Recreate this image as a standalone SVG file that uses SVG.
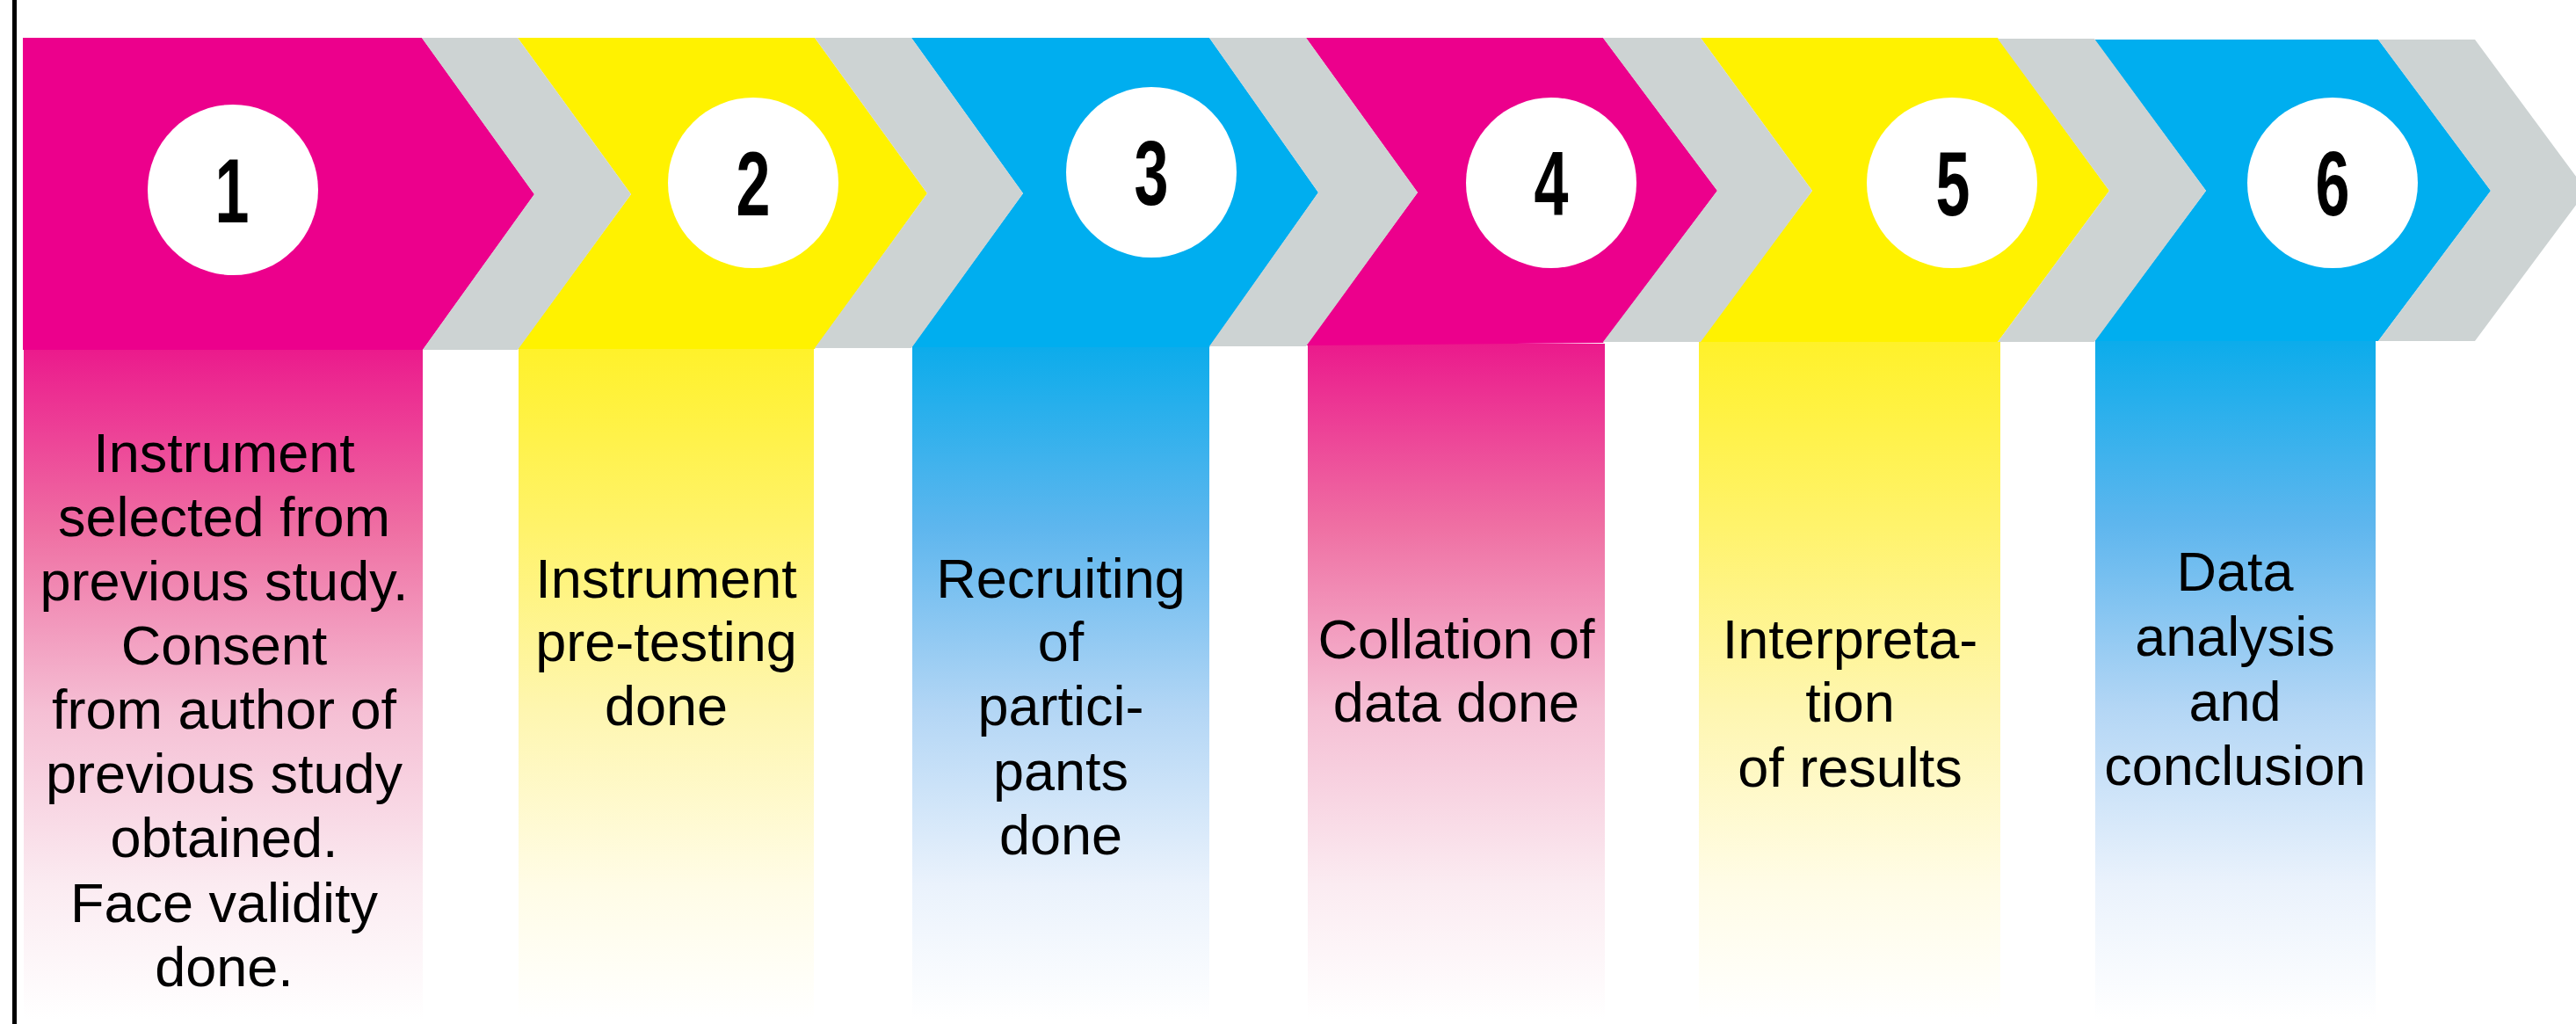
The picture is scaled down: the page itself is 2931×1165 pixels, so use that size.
<svg xmlns="http://www.w3.org/2000/svg" width="2931" height="1165" viewBox="0 0 2931 1165">
<style>
.mag{fill:#EC008C}.yel{fill:#FFF200}.cya{fill:#00AEEF}.chev{fill:#CDD3D3}
.circ{fill:#FFFFFF}
.num{font-family:"Liberation Sans",Arial,sans-serif;font-weight:bold;font-size:103px;fill:#000;text-anchor:middle}
.lbl{font-family:"Liberation Sans",Arial,sans-serif;font-size:63px;fill:#000;text-anchor:middle}
</style>
<defs>
<linearGradient id="gMag" x1="0" y1="0" x2="0" y2="1">
<stop offset="0" stop-color="#EB1A8C"/><stop offset="0.27" stop-color="#EF6FA3"/><stop offset="0.54" stop-color="#F5BFD4"/><stop offset="0.8" stop-color="#FBEBF1"/><stop offset="1" stop-color="#FFFFFF"/>
</linearGradient>
<linearGradient id="gYel" x1="0" y1="0" x2="0" y2="1">
<stop offset="0" stop-color="#FFF12A"/><stop offset="0.27" stop-color="#FFF36B"/><stop offset="0.54" stop-color="#FEF6B0"/><stop offset="0.8" stop-color="#FFFCE6"/><stop offset="1" stop-color="#FFFFFF"/>
</linearGradient>
<linearGradient id="gCya" x1="0" y1="0" x2="0" y2="1">
<stop offset="0" stop-color="#0CACEB"/><stop offset="0.27" stop-color="#5EB6EE"/><stop offset="0.54" stop-color="#B3D6F5"/><stop offset="0.8" stop-color="#EAF2FC"/><stop offset="1" stop-color="#FFFFFF"/>
</linearGradient>
</defs>
<rect x="0" y="0" width="2931" height="1165" fill="#FFFFFF"/>
<line x1="16.5" y1="0" x2="16.5" y2="1165" stroke="#000" stroke-width="5"/>

<g id="step1">
<rect x="27" y="397" width="454" height="763" fill="url(#gMag)"/>
<polygon class="mag" points="26,43 480,43 608,221 481,398 26,398"/>
<circle class="circ" cx="265" cy="216" r="97"/>
<text class="num" transform="translate(264,253) scale(0.68,1)">1</text>
<text class="lbl"><tspan x="255" y="537">Instrument</tspan><tspan x="255" y="610">selected from</tspan><tspan x="255" y="683">previous study.</tspan><tspan x="255" y="756">Consent</tspan><tspan x="255" y="829">from author of</tspan><tspan x="255" y="902">previous study</tspan><tspan x="255" y="975">obtained.</tspan><tspan x="255" y="1049">Face validity</tspan><tspan x="255" y="1122">done.</tspan></text>
</g>

<g id="step2">
<rect x="590" y="396" width="336" height="764" fill="url(#gYel)"/>
<polygon class="yel" points="589,43 927,43 1055,220 927,397 589,397 718,221"/>
<circle class="circ" cx="857" cy="208" r="97"/>
<text class="num" transform="translate(857,245) scale(0.68,1)">2</text>
<text class="lbl"><tspan x="758" y="680">Instrument</tspan><tspan x="758" y="752">pre-testing</tspan><tspan x="758" y="825">done</tspan></text>
</g>

<g id="step3">
<rect x="1038" y="394" width="338" height="766" fill="url(#gCya)"/>
<polygon class="cya" points="1037,43 1376,43 1500,219 1376,395 1037,395 1164,220"/>
<circle class="circ" cx="1310" cy="196" r="97"/>
<text class="num" transform="translate(1310,233) scale(0.68,1)">3</text>
<text class="lbl"><tspan x="1207" y="680">Recruiting</tspan><tspan x="1207" y="752">of</tspan><tspan x="1207" y="825">partici-</tspan><tspan x="1207" y="899">pants</tspan><tspan x="1207" y="972">done</tspan></text>
</g>

<g id="step4">
<rect x="1488" y="391" width="338" height="769" fill="url(#gMag)"/>
<polygon class="mag" points="1486,43 1824,43 1954,217 1824,390 1486,393 1613,219"/>
<circle class="circ" cx="1765" cy="208" r="97"/>
<text class="num" transform="translate(1765,245) scale(0.68,1)">4</text>
<text class="lbl"><tspan x="1657" y="749">Collation of</tspan><tspan x="1657" y="821">data done</tspan></text>
</g>

<g id="step5">
<rect x="1933" y="389" width="343" height="771" fill="url(#gYel)"/>
<polygon class="yel" points="1935,43 2273,43 2400,217 2273,389 1933,389 2062,217"/>
<circle class="circ" cx="2221" cy="208" r="97"/>
<text class="num" transform="translate(2222,245) scale(0.68,1)">5</text>
<text class="lbl"><tspan x="2105" y="749">Interpreta-</tspan><tspan x="2105" y="821">tion</tspan><tspan x="2105" y="895">of results</tspan></text>
</g>

<g id="step6">
<rect x="2384" y="388" width="319" height="772" fill="url(#gCya)"/>
<polygon class="cya" points="2383,45 2706,45 2834,217 2706,388 2383,388 2510,217"/>
<circle class="circ" cx="2654" cy="208" r="97"/>
<text class="num" transform="translate(2654,245) scale(0.68,1)">6</text>
<text class="lbl"><tspan x="2543" y="672">Data</tspan><tspan x="2543" y="746">analysis</tspan><tspan x="2543" y="820">and</tspan><tspan x="2543" y="893">conclusion</tspan></text>
</g>

<g id="connectors">
<polygon class="chev" points="480,43 589,43 718,221 589,398 481,398 608,221"/>
<polygon class="chev" points="927,43 1037,43 1164,220 1037,396 927,396 1055,220"/>
<polygon class="chev" points="1376,43 1486,43 1613,219 1486,394 1376,394 1500,219"/>
<polygon class="chev" points="1824,43 1935,43 2062,217 1935,389 1824,389 1954,217"/>
<polygon class="chev" points="2273,44 2383,44 2510,217 2383,389 2273,389 2400,217"/>
<polygon class="chev" points="2706,45 2816,45 2943,217 2816,388 2706,388 2834,217"/>
</g>
</svg>
